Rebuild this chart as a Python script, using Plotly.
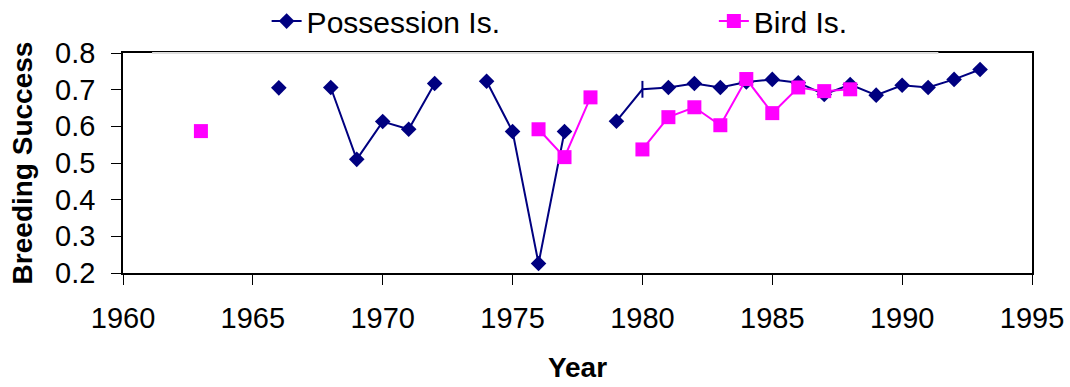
import plotly.graph_objects as go

# Breeding success by colony and year (None = no survey that year)
poss_years = [1966, 1967, 1968, 1969, 1970, 1971, 1972, 1973, 1974, 1975, 1976,
              1977, 1978, 1979, 1980, 1981, 1982, 1983, 1984, 1985, 1986, 1987,
              1988, 1989, 1990, 1991, 1992, 1993]
poss_success = [0.705, None, 0.706, 0.510, 0.613, 0.592, 0.717, None, 0.723, 0.586,
                0.226, 0.586, None, 0.614, 0.701, 0.706, 0.717, 0.706, 0.721, 0.728,
                0.719, 0.687, 0.714, 0.685, 0.712, 0.706, 0.728, 0.755]

bird_years = [1963, 1964, 1976, 1977, 1978, 1979, 1980, 1981, 1982, 1983, 1984,
              1985, 1986, 1987, 1988]
bird_success = [0.587, None, 0.592, 0.516, 0.679, None, 0.537, 0.625, 0.652, 0.603,
                0.729, 0.636, 0.706, 0.696, 0.701]

x_ticks = [1960, 1965, 1970, 1975, 1980, 1985, 1990, 1995]
y_ticks = [0.2, 0.3, 0.4, 0.5, 0.6, 0.7, 0.8]

NAVY = "#000080"
MAGENTA = "#FF00FF"
FONT = "Arial, Liberation Sans, sans-serif"

# 1980 Possession record is plotted with a bar marker instead of a diamond
poss_symbols = ["line-ns" if y == 1980 else "diamond" for y in poss_years]
poss_line_w = [2 if y == 1980 else 0 for y in poss_years]

fig = go.Figure()
fig.add_trace(go.Scatter(
    x=poss_years, y=poss_success, name="Possession Is.", legend="legend",
    mode="lines+markers", connectgaps=False,
    line=dict(color=NAVY, width=2),
    marker=dict(symbol=poss_symbols, size=12, color=NAVY,
                line=dict(color=NAVY, width=poss_line_w)),
))
fig.add_trace(go.Scatter(
    x=bird_years, y=bird_success, name="Bird Is.", legend="legend2",
    mode="lines+markers", connectgaps=False,
    line=dict(color=MAGENTA, width=2),
    marker=dict(symbol="square", size=14, color=MAGENTA, line=dict(width=0)),
))

axis_common = dict(
    showgrid=False, zeroline=False, showline=True, linecolor="black",
    linewidth=1.5, mirror=True, ticks="outside", ticklen=10, tickwidth=1,
    tickcolor="black", tickfont=dict(family=FONT, size=29, color="black"),
)

fig.update_xaxes(
    range=[1960, 1995], tickvals=x_ticks, ticktext=[str(v) for v in x_ticks],
    ticklabelstandoff=8,
    title=dict(text="<b>Year</b>", font=dict(family=FONT, size=28, color="black"),
               standoff=25),
    **axis_common,
)
fig.update_yaxes(
    range=[0.2, 0.8], tickvals=y_ticks, ticktext=[f"{v:.1f}" for v in y_ticks],
    ticklabelstandoff=10,
    title=dict(text="<b>Breeding Success</b>",
               font=dict(family=FONT, size=28, color="black"), standoff=14),
    **axis_common,
)

legend_common = dict(
    orientation="h", xanchor="left", y=1.145, yanchor="middle",
    font=dict(family=FONT, size=30, color="black"),
    bgcolor="rgba(0,0,0,0)", itemwidth=30,
)

fig.update_layout(
    width=1070, height=387,
    margin=dict(l=123, r=38, t=53, b=114, autoexpand=False),
    paper_bgcolor="white", plot_bgcolor="white",
    font=dict(family=FONT, color="black"),
    showlegend=True,
    legend=dict(x=0.158, **legend_common),
    legend2=dict(x=0.65, **legend_common),
    shapes=[dict(type="line", xref="paper", yref="paper",
                 x0=0.032, x1=0.897, y0=1, y1=1,
                 line=dict(color="#DDDDDD", width=2), layer="above")],
)

fig.write_html("out.html")
